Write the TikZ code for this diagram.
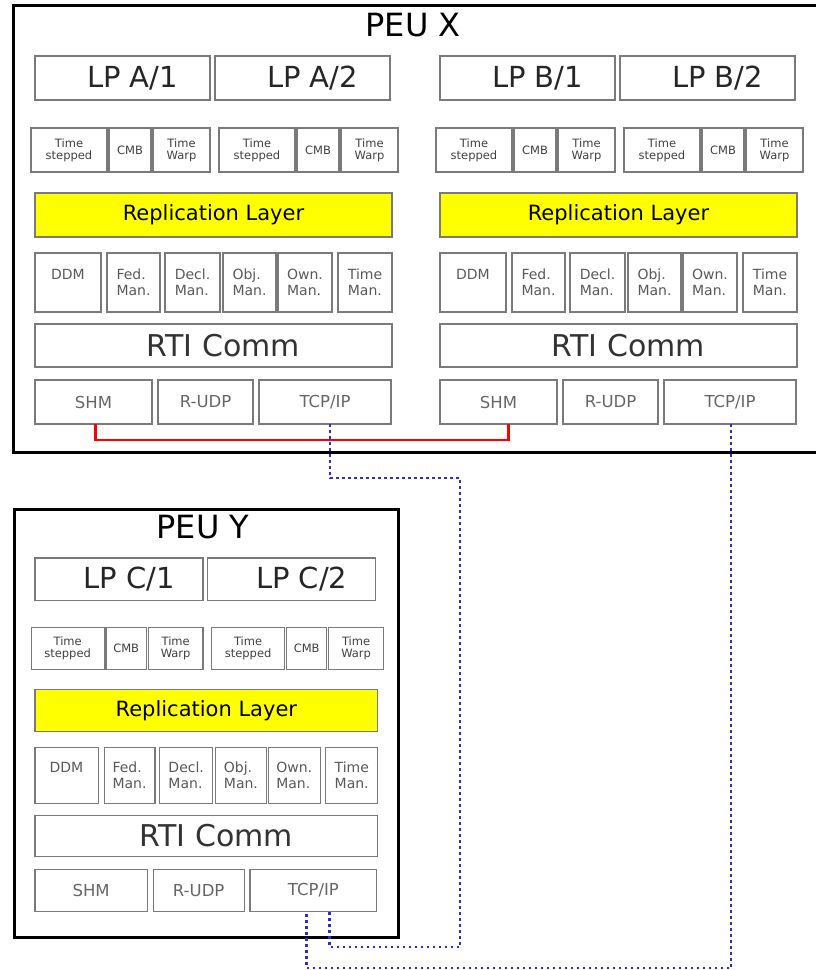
\documentclass[tikz,border=0pt]{standalone}
\usepackage{fontspec}
\setmainfont{DejaVu Sans}

\definecolor{boxgray}{HTML}{7A7A7A}
\definecolor{linkblue}{HTML}{2B2BD9}
\definecolor{layeryellow}{HTML}{FFFF00}

\tikzset{
  blk/.style={draw=boxgray, line width=1.1pt, inner sep=0pt, outer sep=0pt},
  lpad/.style={execute at begin node={\hspace*{#1}}},
  lpbox/.style={blk, lpad=20pt, font=\fontsize{29}{32}\selectfont, text=black!85},
  tinybox/.style={blk, align=center, font=\fontsize{11.5}{12}\selectfont, text=black!75},
  replbox/.style={blk, fill=layeryellow, font=\fontsize{21}{23}\selectfont},
  manbox/.style={blk, align=left, font=\fontsize{14}{16}\selectfont, text=black!65},
  rtibox/.style={blk, lpad=20pt, font=\fontsize{30}{33}\selectfont, text=black!80},
  netbox/.style={blk, font=\fontsize{16.5}{20}\selectfont, text=black!60},
  peubox/.style={draw=black, line width=3pt},
  peutitle/.style={font=\fontsize{32}{34}\selectfont},
  shmlink/.style={draw=red, line width=2.5pt},
  tcplink/.style={draw=linkblue, line width=2.5pt, dash pattern=on 2.5pt off 3.5pt},
}

% box from stack corner (u1,v1) to (u2,v2)
\newcommand{\blk}[7]{%
  \node[#2, minimum width={\sx*((#5)-(#3))*1pt}, minimum height={\sx*((#6)-(#4))*1pt}]
    (#1) at ({\ox+\sx*((#3)+(#5))/2},{\oy+\sx*((#4)+(#6))/2}) {#7};}

% one LP stack: prefix, x0, y0, scale, LP labels
\newcommand{\lpstack}[6]{%
  \def\ox{#2}\def\oy{#3}\def\sx{#4}%
  \blk{#1LP1}{lpbox}{0}{0}{175}{44}{LP #5}
  \blk{#1LP2}{lpbox}{180}{0}{355}{44}{LP #6}
  \foreach \g/\d in {1/0, 2/188}
    \foreach \n/\a/\b/\t in {TS/-4/72/{Time\\stepped}, CMB/74/116/CMB, TW/118/175/{Time\\Warp}}
      \blk{#1\n\g}{tinybox}{\a+\d}{72}{\b+\d}{116}{\t};
  \blk{#1Repl}{replbox}{0}{137}{357}{181}{Replication Layer}
  \foreach \n/\a/\b/\t in {DDM/0/66/{DDM\\\phantom{Man.}},
                           Fed/72/125/{Fed.\\Man.},
                           Decl/130/185/{Decl.\\Man.},
                           Obj/188/241/{Obj.\\Man.},
                           Own/243/297/{Own.\\Man.},
                           Time/303/357/{Time\\Man.}}
    \blk{#1\n}{manbox}{\a}{197}{\b}{256}{\t};
  \blk{#1RTI}{rtibox}{0}{268}{357}{311}{RTI Comm}
  \foreach \n/\a/\b/\t in {SHM/0/117/SHM, RUDP/123/218/R-UDP, TCP/224/356/{TCP/IP}}
    \blk{#1\n}{netbox}{\a}{324}{\b}{368}{\t};
}

\begin{document}
\begin{tikzpicture}[x=1pt, y=-1pt]
  \useasboundingbox (0,0) rectangle (816,970);

  % processing units
  \draw[peubox] (13,5) rectangle (822,452);
  \draw[peubox] (14,509) rectangle (398,937);
  \node[peutitle] (peuX) at (413,25) {PEU X};
  \node[peutitle] (peuY) at (203,527) {PEU Y};

  \lpstack{a}{35}{56}{1}{A/1}{A/2}
  \lpstack{b}{440}{56}{1}{B/1}{B/2}
  \lpstack{c}{35}{558}{0.96}{C/1}{C/2}

  % links
  \coordinate (tcpturn) at (460,478);
  \coordinate (tcpdrop) at (460,947);
  \coordinate (lowlane) at (307,968);
  \draw[shmlink] ([xshift=2]aSHM.south) -- ++(0,16) -| ([xshift=10]bSHM.south);
  \draw[tcplink] ([xshift=5]aTCP.south) |- (tcpturn) -- (tcpdrop) -| ([xshift=16]cTCP.south);
  \draw[tcplink] ([xshift=1]bTCP.south) |- (lowlane) -| ([xshift=-7]cTCP.south);
\end{tikzpicture}
\end{document}
